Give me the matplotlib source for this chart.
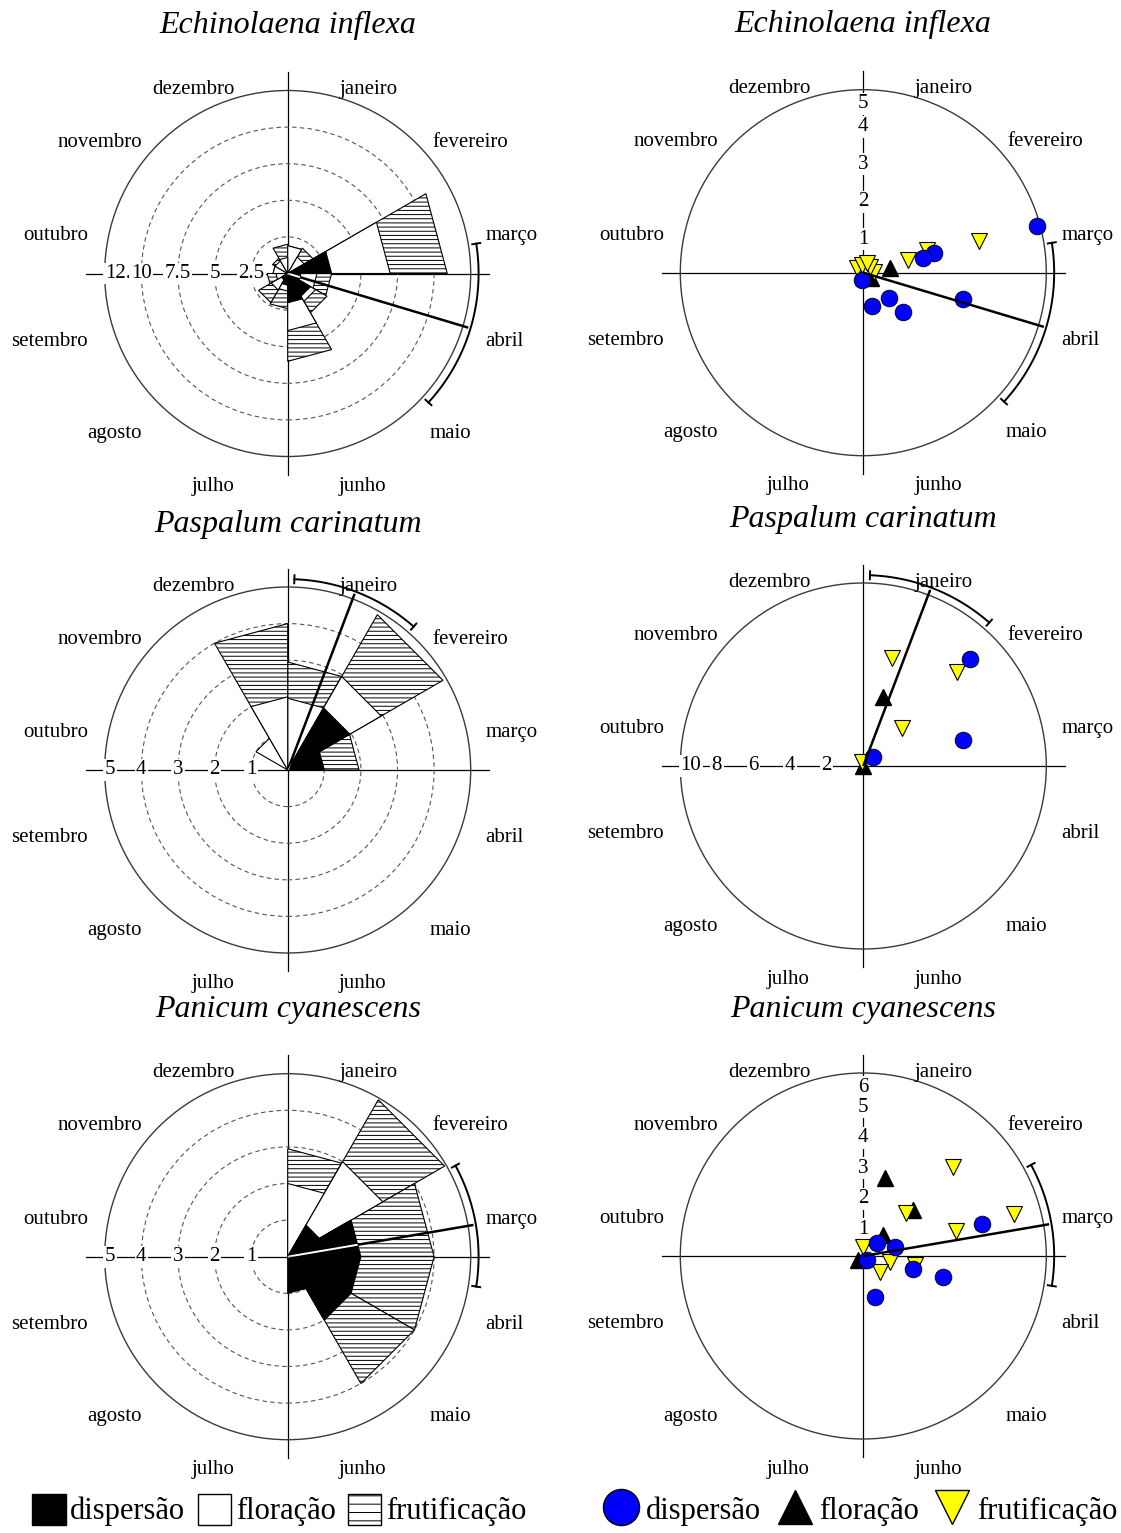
import numpy as np
import matplotlib.pyplot as plt
from matplotlib.patches import Polygon, Circle, Patch
from matplotlib.lines import Line2D

plt.rcParams['font.family'] = ['Liberation Serif', 'DejaVu Serif']
plt.rcParams['hatch.linewidth'] = 0.7

W, H = 1121, 1533
R = 183  # raio do círculo em px

meses = ['janeiro', 'fevereiro', 'março', 'abril', 'maio', 'junho',
         'julho', 'agosto', 'setembro', 'outubro', 'novembro', 'dezembro']

# posição dos nomes dos meses (em unidades do raio)
mes_dx = [0.44, 0.995, 1.225, 1.185, 0.89, 0.41, -0.41, -0.945, -1.30, -1.265, -1.025, -0.515]
mes_dy = [1.005, 0.715, 0.205, -0.37, -0.875, -1.165, -1.165, -0.875, -0.37, 0.205, 0.715, 1.005]

# histogramas circulares (jan..dez)
ei_frut = [1.9, 2.0, 10.9, 3.0, 3.1, 6.0, 2.4, 2.3, 1.4, 1.0, 1.2, 2.0]
ei_flor = [1.9, 1.3, 7.0, 2.0, 2.2, 3.9, 1.2, 1.3, 0.8, 1.0, 1.0, 1.1]
ei_disp = [0, 0, 3.0, 0.9, 1.8, 2.0, 0.8, 0.5, 0, 0, 0, 0]

pc_frut = [2.95, 4.9, 1.95, 0, 0, 0, 0, 0, 0, 0, 0, 4.0]
pc_flor = [1.96, 2.95, 0.9, 0, 0, 0, 0, 0, 0, 0, 1.0, 2.0]
pc_disp = [0, 1.96, 1.0, 0, 0, 0, 0, 0, 0, 0, 0, 0]

py_frut = [2.95, 4.95, 4.0, 4.0, 4.0, 0, 0, 0, 0, 0, 0, 0]
py_flor = [2.0, 3.0, 1.9, 1.9, 1.9, 0, 0, 0, 0, 0, 0, 0]
py_disp = [0, 1.0, 2.0, 2.0, 2.0, 1.0, 0, 0, 0, 0, 0, 0]

# vetores (x, y) por amostra
ei_pt_disp = [(4.64, 1.24), (1.885, 0.515), (1.6, 0.4), (-0.04, -0.2), (0.24, -0.89),
              (0.70, -0.69), (1.06, -1.04), (2.66, -0.70)]
ei_pt_flor = [(0.71, 0.12), (0.2, -0.15)]
ei_pt_frut = [(3.10, 0.84), (1.19, 0.34), (1.7, 0.62), (-0.16, 0.12), (-0.03, 0.2),
              (0.28, 0.03), (0.18, 0.16), (0.11, 0.25)]

pc_pt_disp = [(5.83, 5.83), (5.43, 1.42), (0.51, 0.47)]
pc_pt_flor = [(1.09, 3.79), (0.0, 0.0)]
pc_pt_frut = [(1.58, 5.88), (5.10, 5.12), (2.09, 2.06), (-0.09, 0.24)]

py_pt_disp = [(3.88, 1.05), (0.44, 0.42), (1.04, 0.31), (0.13, -0.13), (1.64, -0.44),
              (2.62, -0.70), (0.38, -1.35)]
py_pt_flor = [(0.71, 2.55), (1.64, 1.51), (0.66, 0.69), (-0.16, -0.13)]
py_pt_frut = [(2.93, 2.93), (4.95, 1.38), (3.04, 0.83), (1.39, 1.40), (0.0, 0.31),
              (0.87, -0.19), (0.55, -0.51), (1.7, -0.3)]

# média e intervalo de confiança (graus, sentido horário a partir do norte)
ei_media, ei_ic = 106.7, (81.0, 132.5)
pc_media, pc_ic = 20.8, (2.0, 41.3)
py_media, py_ic = 80.3, (61.5, 99.0)

fig = plt.figure(figsize=(W / 100, H / 100), dpi=100)


def make_ax(cx, cy, L=1.15):
    s = L * R
    ax = fig.add_axes([(cx - s) / W, 1 - (cy + s) / H, 2 * s / W, 2 * s / H])
    ax.set_xlim(-L, L)
    ax.set_ylim(-L, L)
    ax.axis('off')
    return ax


def xy(ang, r):
    a = np.radians(ang)
    return r * np.sin(a), r * np.cos(a)


def base(ax):
    ax.add_patch(Circle((0, 0), 1, fill=False, ec='#3a3a3a', lw=1.0, zorder=1.2))
    ax.plot([-1.1, 1.1], [0, 0], color='black', lw=0.9, zorder=1)
    ax.plot([0, 0], [-1.1, 1.1], color='black', lw=0.9, zorder=1)
    for i, m in enumerate(meses):
        ax.text(mes_dx[i], mes_dy[i], m, ha='center', va='center', fontsize=15)


def mean_vector(ax, media, ic, black_patches=()):
    x, y = xy(media, 1.03)
    ax.plot([0, x], [0, y], color='black', lw=1.8, zorder=6, solid_capstyle='butt')
    for p in black_patches:
        ln, = ax.plot([0, x], [0, y], color='white', lw=1.4, zorder=6.5)
        ln.set_clip_path(p)
    ra = 1.043
    t = np.linspace(ic[0], ic[1], 100)
    ax.plot(*xy(t, ra), color='black', lw=1.4, zorder=6)
    for a in ic:
        x0, y0 = xy(a, ra - 0.022)
        x1, y1 = xy(a, ra + 0.022)
        ax.plot([x0, x1], [y0, y1], color='black', lw=1.4, zorder=6)


def wedge(k, r):
    a1, a2 = 30 * k, 30 * (k + 1)
    return [(0, 0), xy(a1, r), xy(a2, r)]


def rose(ax, frut, flor, disp, vmax, ticks, tlabels, media, ic):
    base(ax)
    for v in ticks[:-1]:
        ax.add_patch(Circle((0, 0), v / vmax, fill=False, ec='#555555', lw=0.8,
                            ls=(0, (4, 3)), zorder=1.1))
    for k in range(12):
        if frut[k] > 0:
            ax.add_patch(Polygon(wedge(k, frut[k] / vmax), closed=True, fc='white',
                                 ec='black', lw=0.8, hatch='----', zorder=2))
    for k in range(12):
        if flor[k] > 0:
            ax.add_patch(Polygon(wedge(k, flor[k] / vmax), closed=True, fc='white',
                                 ec='black', lw=0.8, zorder=3))
    blacks = []
    for k in range(12):
        if disp[k] > 0:
            p = Polygon(wedge(k, disp[k] / vmax), closed=True, fc='black',
                        ec='black', lw=0.8, zorder=4)
            ax.add_patch(p)
            blacks.append(p)
    # rótulos da escala
    ax.text(-1.0, 0, tlabels[-1], ha='left', va='center', fontsize=15, zorder=7,
            bbox=dict(fc='white', ec='none', pad=1))
    for v, s in zip(ticks[:-1], tlabels[:-1]):
        ax.text(-v / vmax, 0, s, ha='center', va='center', fontsize=15, zorder=7.1,
                bbox=dict(fc='white', ec='none', pad=1))
    mean_vector(ax, media, ic, blacks)


def scatter(ax, pdisp, pflor, pfrut, vmax, ticks, media, ic, vertical=True):
    base(ax)
    fx, fy = zip(*pflor)
    ax.plot(np.array(fx) / vmax, np.array(fy) / vmax, '^', color='black', ms=12,
            mec='black', zorder=4, clip_on=False)
    tx, ty = zip(*pfrut)
    ax.plot(np.array(tx) / vmax, np.array(ty) / vmax, 'v', color='#ffff00', ms=12,
            mec='black', mew=0.8, zorder=4.5, clip_on=False)
    dx, dy = zip(*pdisp)
    ax.plot(np.array(dx) / vmax, np.array(dy) / vmax, 'o', color='#0000ff', ms=12,
            mec='black', mew=0.6, zorder=5, clip_on=False)
    kw = dict(fontsize=15, bbox=dict(fc='white', ec='none', pad=1))
    if vertical:
        ax.text(0, 0.975, str(ticks[-1]), ha='center', va='top', zorder=3, **kw)
        for v in ticks[:-1]:
            ax.text(0, v / vmax - 0.02, str(v), ha='center', va='center', zorder=3.1, **kw)
    else:
        ax.text(-1.0, 0, str(ticks[-1]), ha='left', va='center', zorder=3, **kw)
        for v in ticks[:-1]:
            ax.text(-v / vmax, 0, str(v), ha='center', va='center', zorder=3.1, **kw)
    mean_vector(ax, media, ic)


cx_l, cx_r = 287.7, 863.3

ax = make_ax(cx_l, 273.5)
rose(ax, ei_frut, ei_flor, ei_disp, 12.5, [2.5, 5, 7.5, 10, 12.5],
     ['2.5', '5', '7.5', '10', '12.5'], ei_media, ei_ic)
ax = make_ax(cx_r, 272.7)
scatter(ax, ei_pt_disp, ei_pt_flor, ei_pt_frut, 4.9, [1, 2, 3, 4, 5], ei_media, ei_ic)

ax = make_ax(cx_l, 770)
rose(ax, pc_frut, pc_flor, pc_disp, 5, [1, 2, 3, 4, 5],
     ['1', '2', '3', '4', '5'], pc_media, pc_ic)
ax = make_ax(cx_r, 766)
scatter(ax, pc_pt_disp, pc_pt_flor, pc_pt_frut, 10, [2, 4, 6, 8, 10], pc_media, pc_ic,
        vertical=False)

ax = make_ax(cx_l, 1256.7)
rose(ax, py_frut, py_flor, py_disp, 5, [1, 2, 3, 4, 5],
     ['1', '2', '3', '4', '5'], py_media, py_ic)
ax = make_ax(cx_r, 1256)
scatter(ax, py_pt_disp, py_pt_flor, py_pt_frut, 6, [1, 2, 3, 4, 5, 6], py_media, py_ic)

# títulos
titulos = [('Echinolaena inflexa', cx_l, 33), ('Echinolaena inflexa', cx_r, 32),
           ('Paspalum carinatum', cx_l, 532), ('Paspalum carinatum', cx_r, 527),
           ('Panicum cyanescens', cx_l, 1017), ('Panicum cyanescens', cx_r, 1017)]
for t, x, y in titulos:
    fig.text(x / W, 1 - y / H, t, ha='center', va='baseline', fontsize=23, style='italic')

# legendas
h1 = [Patch(fc='black', ec='black'), Patch(fc='white', ec='black'),
      Patch(fc='white', ec='black', hatch='--')]
fig.legend(h1, ['dispersão', 'floração', 'frutificação'], loc='center left',
           bbox_to_anchor=(32 / W, 1 - 1510 / H), ncol=3, frameon=False, fontsize=22,
           handlelength=1.1, handleheight=1.2, handletextpad=0.15, columnspacing=0.4,
           borderpad=0, borderaxespad=0)
h2 = [Line2D([], [], marker='o', ls='none', mfc='#0000ff', mec='black', ms=26),
      Line2D([], [], marker='^', ls='none', mfc='black', mec='black', ms=25),
      Line2D([], [], marker='v', ls='none', mfc='#ffff00', mec='black', ms=25)]
fig.legend(h2, ['dispersão', 'floração', 'frutificação'], loc='center left',
           bbox_to_anchor=(603 / W, 1 - 1510 / H), ncol=3, frameon=False, fontsize=22,
           handlelength=1.2, handleheight=1.2, handletextpad=0.2, columnspacing=0.5,
           borderpad=0, borderaxespad=0)

fig.savefig('out.png', dpi=100)
